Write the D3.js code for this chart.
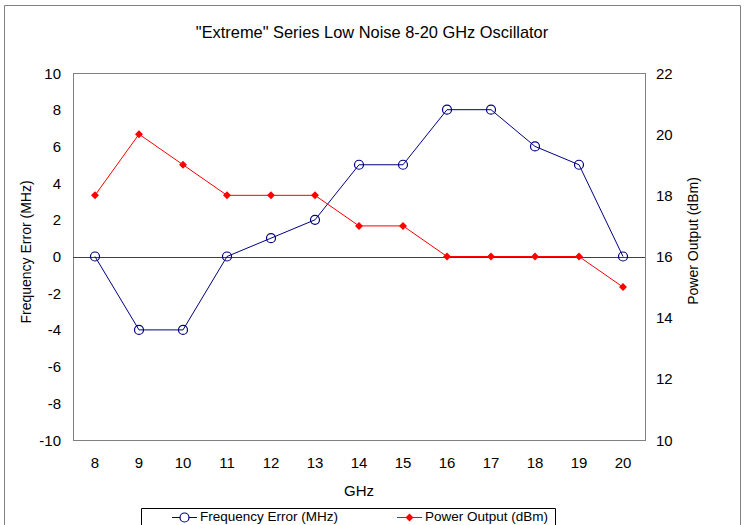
<!DOCTYPE html>
<html>
<head>
<meta charset="utf-8">
<script src="https://cdn.jsdelivr.net/npm/d3@7"></script>
<style>
	html, body { margin: 0; padding: 0; background: #fff; }
	svg { display: block; }
	text { font-family: "Liberation Sans", Arial, sans-serif; fill: #000; }
</style>
</head>
<body>
<svg id="chart"></svg>
<script>
//Chart values.
const ghz = [8, 9, 10, 11, 12, 13, 14, 15, 16, 17, 18, 19, 20];
const freqError = [0, -4, -4, 0, 1, 2, 5, 5, 8, 8, 6, 5, 0];
const powerOut = [18, 20, 19, 18, 18, 18, 17, 17, 16, 16, 16, 16, 15];
const leftTicks = [-10, -8, -6, -4, -2, 0, 2, 4, 6, 8, 10];
const rightTicks = [10, 12, 14, 16, 18, 20, 22];

const width = 749, height = 525;
const margin = {top: 73, right: 104, bottom: 85, left: 73};
const innerWidth = width - margin.left - margin.right;
const innerHeight = height - margin.top - margin.bottom;
const font = '"Liberation Sans", Arial, sans-serif';

const svg = d3.select('#chart')
	.attr('width', width)
	.attr('height', height);

//Outer frame; its bottom side lies below the window, so draw three sides.
svg.append('path')
	.attr('d', 'M4.5,525 V5.5 H740.5 V525')
	.style('fill', 'none')
	.style('stroke', '#808080');

//Title.
svg.append('text')
	.text('"Extreme" Series Low Noise 8-20 GHz Oscillator')
	.attr('x', 372).attr('y', 38)
	.attr('text-anchor', 'middle')
	.style('font-size', '16.4px');

const g = svg.append('g')
	.attr('transform', `translate(${margin.left}, ${margin.top})`);

const x = d3.scaleBand().domain(ghz).range([0, innerWidth]);
const yL = d3.scaleLinear().domain([-10, 10]).range([innerHeight, 0]);
const yR = d3.scaleLinear().domain([10, 22]).range([innerHeight, 0]);
const cx = d => x(d) + x.bandwidth() / 2;
const plain = d => String(d); //Hyphen minus, as in the reference.

//Plot area border.
g.append('rect')
	.attr('x', 0.5).attr('y', 0.5)
	.attr('width', innerWidth).attr('height', innerHeight)
	.style('fill', 'none')
	.style('stroke', '#808080');

//Axes, drawn without lines or ticks, labels only.
const leftAxis = g.append('g')
	.call(d3.axisLeft(yL).tickValues(leftTicks).tickFormat(plain).tickSize(0).tickPadding(12));
const rightAxis = g.append('g')
	.attr('transform', `translate(${innerWidth}, 0)`)
	.call(d3.axisRight(yR).tickValues(rightTicks).tickFormat(plain).tickSize(0).tickPadding(11));
const bottomAxis = g.append('g')
	.attr('transform', `translate(0, ${innerHeight})`)
	.call(d3.axisBottom(x).tickFormat(plain).tickSize(0).tickPadding(17));
[leftAxis, rightAxis, bottomAxis].forEach(a => {
	a.select('.domain').remove();
	a.selectAll('.tick line').remove();
	a.attr('font-size', 15).attr('font-family', font);
});
//Pixel offsets in place of em offsets.
leftAxis.selectAll('text').attr('dy', 5);
rightAxis.selectAll('text').attr('dy', 5);
bottomAxis.selectAll('text').attr('dy', 11);

//Zero line.
g.append('line')
	.attr('x1', 0).attr('x2', innerWidth)
	.attr('y1', Math.round(yL(0)) + 0.5).attr('y2', Math.round(yL(0)) + 0.5)
	.style('stroke', '#404040');

//Axis titles.
svg.append('text')
	.text('GHz')
	.attr('x', margin.left + innerWidth / 2).attr('y', 496)
	.attr('text-anchor', 'middle')
	.style('font-size', '15px');
svg.append('text')
	.text('Frequency Error (MHz)')
	.attr('transform', 'translate(31, 252) rotate(-90)')
	.attr('text-anchor', 'middle')
	.style('font-size', '14px');
svg.append('text')
	.text('Power Output (dBm)')
	.attr('transform', 'translate(698, 241) rotate(-90)')
	.attr('text-anchor', 'middle')
	.style('font-size', '14px');

//Frequency error series.
const blue = '#000080', red = '#ff0000';
g.append('path')
	.datum(ghz.map((d, i) => [cx(d), yL(freqError[i])]))
	.attr('d', d3.line())
	.style('fill', 'none').style('stroke', blue).style('stroke-width', 1);
g.selectAll('.fe')
	.data(ghz)
	.join('circle')
	.attr('class', 'fe')
	.attr('cx', d => cx(d))
	.attr('cy', (d, i) => yL(freqError[i]))
	.attr('r', 4.5)
	.style('fill', 'none').style('stroke', blue).style('stroke-width', 1.2);

//Power output series.
g.append('path')
	.datum(ghz.map((d, i) => [cx(d), yR(powerOut[i])]))
	.attr('d', d3.line())
	.style('fill', 'none').style('stroke', red).style('stroke-width', 1);
const diamond = d3.symbol().type(d3.symbolDiamond2).size(40);
g.selectAll('.po')
	.data(ghz)
	.join('path')
	.attr('class', 'po')
	.attr('d', diamond)
	.attr('transform', (d, i) => `translate(${cx(d)}, ${yR(powerOut[i])})`)
	.style('fill', red);

//Legend box, its bottom side below the window as in the reference.
const leg = svg.append('g');
leg.append('path')
	.attr('d', 'M141.5,525 V508.5 H555.5 V525')
	.style('fill', '#fff').style('stroke', '#000');
const items = [
	{label: 'Frequency Error (MHz)', color: blue, x: 172, type: 'circle'},
	{label: 'Power Output (dBm)', color: red, x: 397, type: 'diamond'}
];
items.forEach(it => {
	leg.append('line')
		.attr('x1', it.x).attr('x2', it.x + 25)
		.attr('y1', 517.5).attr('y2', 517.5)
		.style('stroke', it.color);
	if (it.type === 'circle') {
		leg.append('circle')
			.attr('cx', it.x + 12.5).attr('cy', 517.5).attr('r', 4.5)
			.style('fill', '#fff').style('stroke', it.color).style('stroke-width', 1.2);
	} else {
		leg.append('path')
			.attr('d', diamond)
			.attr('transform', `translate(${it.x + 12.5}, 517.5)`)
			.style('fill', it.color);
	}
	leg.append('text')
		.text(it.label)
		.attr('x', it.x + 28).attr('y', 521)
		.style('font-size', '13.5px');
});
</script>
</body>
</html>
